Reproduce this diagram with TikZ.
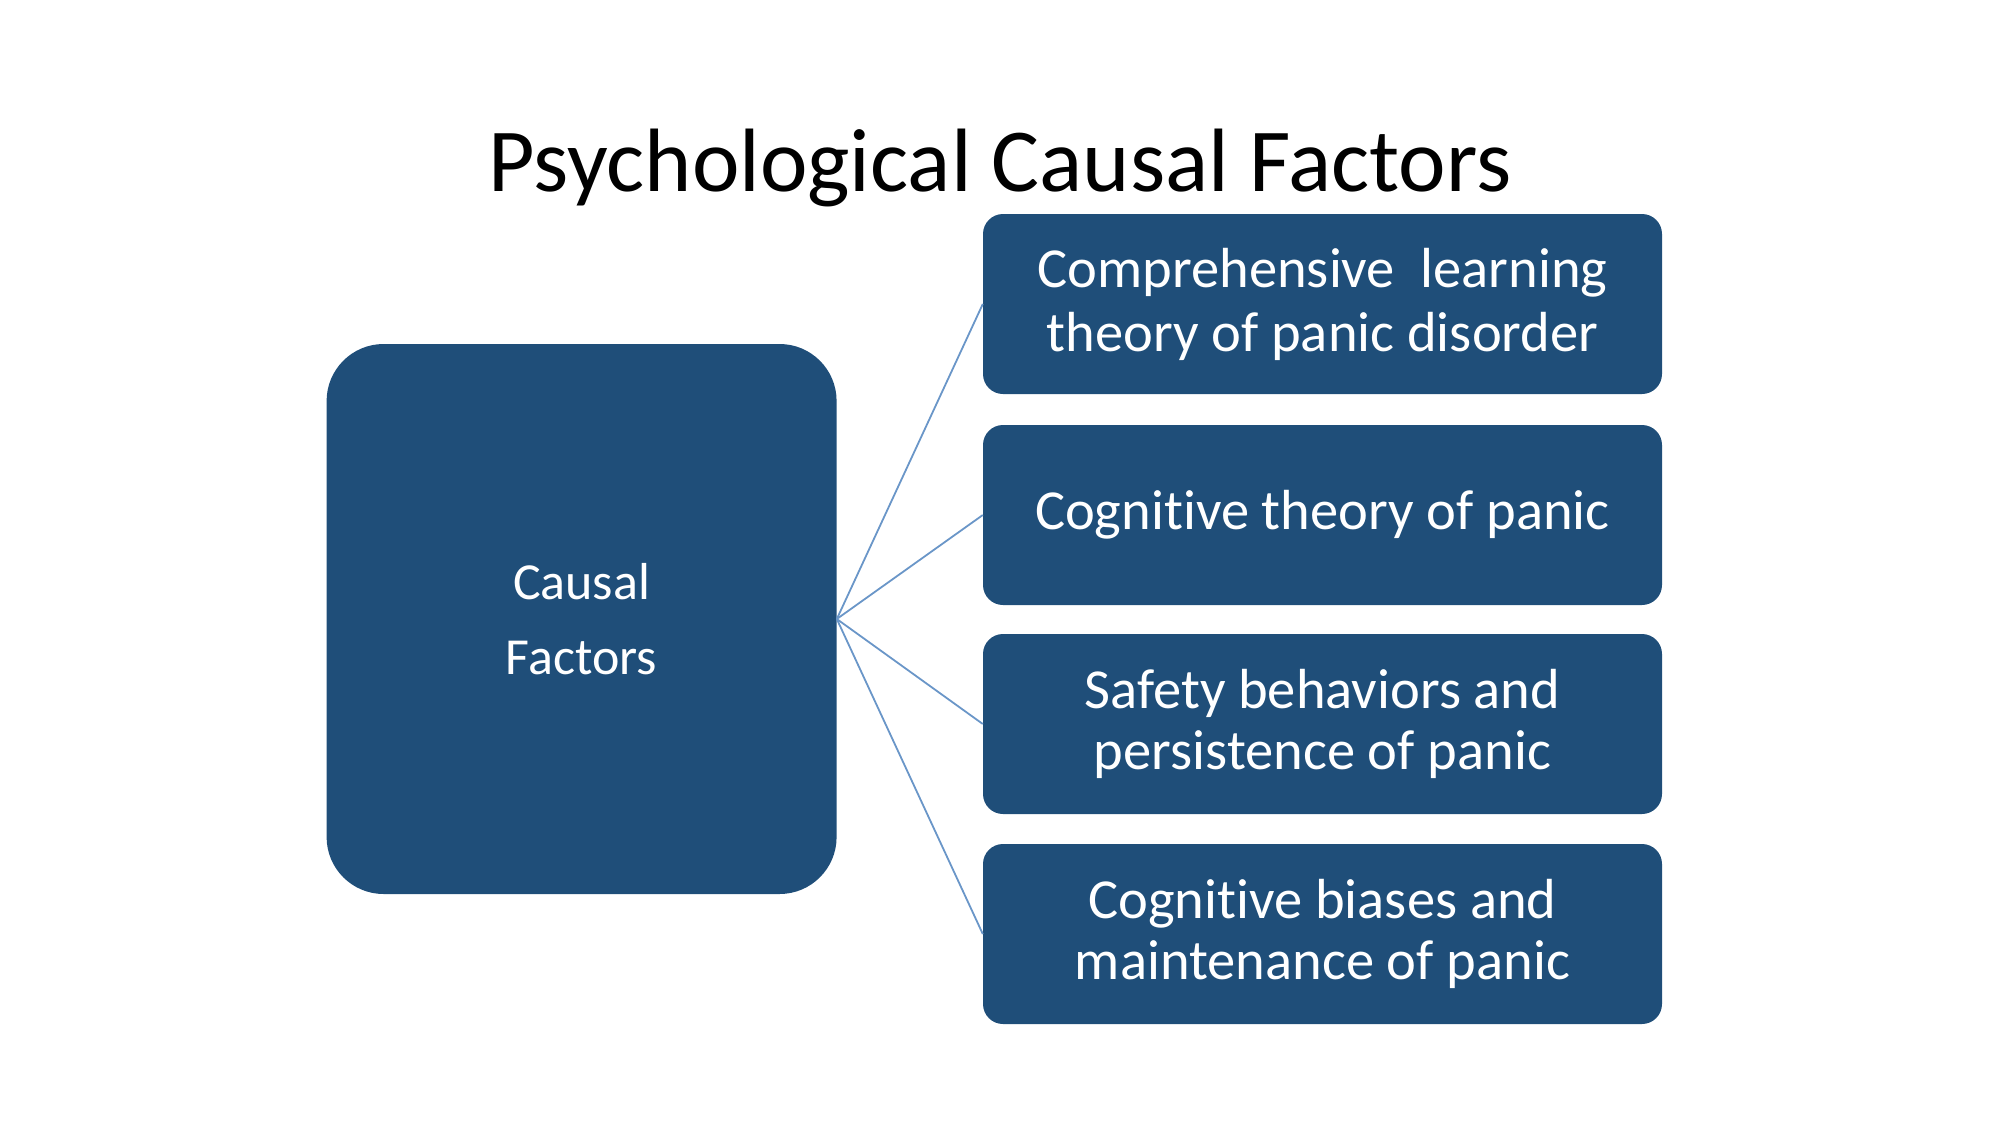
\documentclass[tikz,border=0pt]{standalone}
\usepackage{fontspec}
\setmainfont{Carlito}[Ligatures=CommonOff]
\begin{document}
\begin{tikzpicture}[x=1pt,y=-1pt,
  box/.style={fill=boxblue,text=white,inner sep=0pt,align=center},
  mainbox/.style={box,minimum width=510pt,minimum height=550pt,rounded corners=57pt,
    font=\fontsize{52}{75}\selectfont},
  itembox/.style={box,minimum width=679pt,minimum height=180pt,rounded corners=20pt,
    font=\fontsize{56.5}{61}\selectfont},
  link/.style={draw=linkblue,line width=1.8pt}]
\definecolor{boxblue}{HTML}{1F4E79}\definecolor{linkblue}{HTML}{6A96C8}
\useasboundingbox (0,0) rectangle (2000,1125);
\node[font=\fontsize{90}{110}\selectfont] (title) at (1000,168) {Psychological Causal Factors};
\node[mainbox] (causal) at (581.6,619) {Causal\\Factors};
\node[itembox,font=\fontsize{56.5}{64}\selectfont] (learn) at (1322.5,304) {Comprehensive\ \ learning\\theory of panic disorder};
\node[itembox] (cogn) at (1322.5,515) {Cognitive theory of panic};
\node[itembox] (safety) at (1322.5,724) {Safety behaviors and\\persistence of panic};
\node[itembox] (bias) at (1322.5,934) {Cognitive biases and\\maintenance of panic};
\foreach \b in {learn,cogn,safety,bias}
  \draw[link] (causal.east) -- (\b.west);
\end{tikzpicture}
\end{document}
